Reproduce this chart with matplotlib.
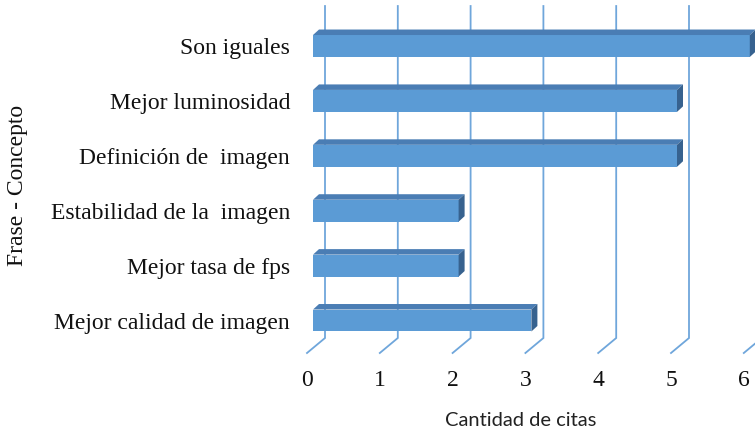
import matplotlib.pyplot as plt
from matplotlib.patches import Polygon

# Data
categories = ["Mejor calidad de imagen", "Mejor tasa de fps", "Estabilidad de la  imagen",
              "Definición de  imagen", "Mejor luminosidad", "Son iguales"]
citas = [3, 2, 2, 5, 5, 6]
x_ticks = [0, 1, 2, 3, 4, 5, 6]

# Colours
FRONT = "#5B9BD5"
TOP = "#4A7DB4"
SIDE = "#37628F"
GRID = "#6FA6DB"
TEXT = "#111111"

# pixel scale of the data axes (px per unit)
SX = 72.8
SY = 54.9
BAR_DX = 6 / SX      # depth of the bar (to the right)
BAR_DY = 5.5 / SY    # depth of the bar (upwards)

fig = plt.figure(figsize=(7.55, 4.34), dpi=100)
ax = fig.add_axes([313 / 755, (434 - 347.95) / 434, 6 * SX / 755, 329.4 / 434])
ax.set_xlim(0, 6)
ax.set_ylim(-0.5, 5.5)
ax.axis("off")

# back wall gridlines + slanted floor lines
for v in x_ticks:
    xb = v + 12 / SX
    xf = v - 6 / SX
    ax.plot([xb, xb, xf], [5.728, -0.319, -0.592], color=GRID, lw=1.3,
            clip_on=False, zorder=1, solid_joinstyle="miter")

# bars with a simple 3D look
ypos = list(range(len(categories)))
h = 0.40
ax.barh(ypos, citas, height=h, color=FRONT, zorder=3, clip_on=False)
for y, v in zip(ypos, citas):
    top = [(0, y + h / 2), (v, y + h / 2), (v + BAR_DX, y + h / 2 + BAR_DY),
           (BAR_DX, y + h / 2 + BAR_DY)]
    side = [(v, y - h / 2), (v, y + h / 2), (v + BAR_DX, y + h / 2 + BAR_DY),
            (v + BAR_DX, y - h / 2 + BAR_DY)]
    ax.add_patch(Polygon(top, closed=True, facecolor=TOP, edgecolor="none",
                         zorder=3, clip_on=False))
    ax.add_patch(Polygon(side, closed=True, facecolor=SIDE, edgecolor="none",
                         zorder=3, clip_on=False))

# category labels
for y, lab in zip(ypos, categories):
    ax.text(-23 / SX, y - 0.05, lab, ha="right", va="center",
            family="Liberation Serif", fontsize=17, color=TEXT)

# value labels on the floor front
for v in x_ticks:
    ax.text(v - 6 / SX, -1.10, str(v), ha="center", va="center",
            family="Liberation Serif", fontsize=17, color=TEXT)

fig.text(18 / 755, 1 - 185 / 434, "Frase - Concepto", rotation=90,
         ha="center", va="center", family="Liberation Serif", fontsize=17,
         color=TEXT)
fig.text(521 / 755, 1 - 421 / 434, "Cantidad de citas", ha="center",
         va="center", family="Lato", fontsize=14.5, color="#222222")

fig.savefig("out.png", dpi=100)
